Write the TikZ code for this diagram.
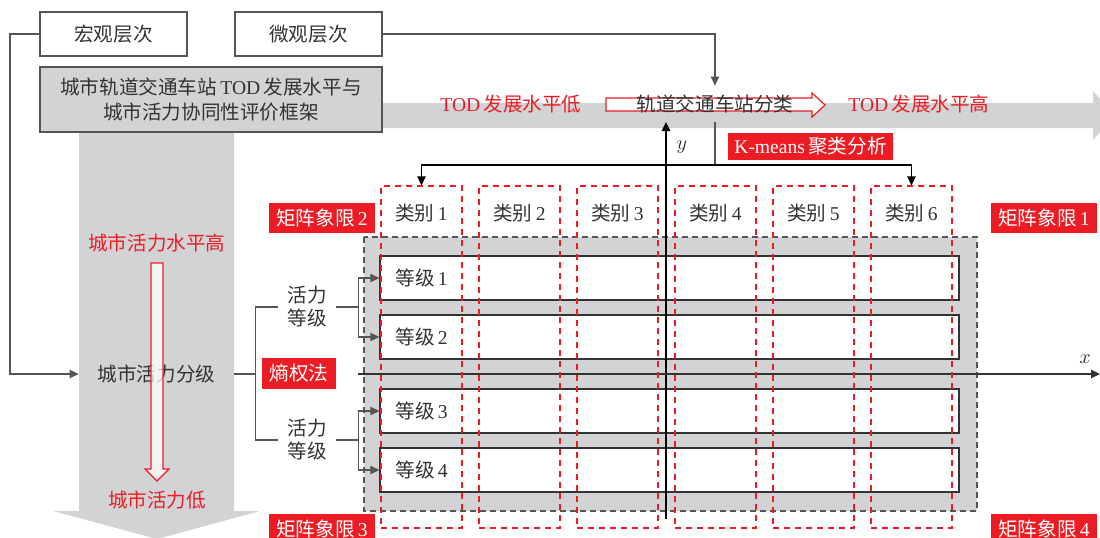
\documentclass[tikz,border=0pt]{standalone}
\usepackage{fontspec}
\setmainfont{Liberation Serif}
\newfontfamily\zh{Noto Sans CJK SC}
\usetikzlibrary{arrows.meta}
\definecolor{myred}{HTML}{ED1C24}
\definecolor{bandgray}{HTML}{D1D3D4}
\definecolor{linegray}{HTML}{555555}
\definecolor{txtgray}{HTML}{333333}
\begin{document}
\begin{tikzpicture}[x=0.5pt,y=-0.5pt,
  every node/.style={inner sep=0pt, font=\fontsize{9.8}{11.5}\selectfont, text=txtgray},
  tri/.style={-{Triangle[length=4.5pt,width=4.2pt]}},
  conn/.style={draw=linegray, line width=0.6pt},
  wbox/.style={draw=linegray, line width=0.6pt, fill=white, minimum width=73.5pt, minimum height=22pt},
  gradebox/.style={draw=black!80, line width=0.6pt, fill=white, minimum width=289.5pt, minimum height=22pt},
  catbox/.style={draw=myred, line width=0.6pt, dash pattern=on 3pt off 2.5pt, minimum width=40.5pt, minimum height=171pt},
  redbox/.style={fill=myred, text=white, minimum width=53pt, minimum height=15pt},
  redtxt/.style={text=myred},
  hollow/.style={draw=myred, line width=0.6pt, fill=white},
]
\useasboundingbox (0,0) rectangle (1100,537);
% gray bands
\fill[bandgray] (370,103) -- (1093,103) -- (1093,91) -- (1115,115.5) -- (1093,140) -- (1093,128) -- (370,128) -- cycle;
\fill[bandgray] (79,128) -- (234,128) -- (234,511) -- (260,511) -- (157,539) -- (53,511) -- (79,511) -- cycle;
% top boxes
\node[wbox] (macro) at (113.5,34) {\zh 宏观层次};
\node[wbox] (micro) at (308.5,34) {\zh 微观层次};
\node[draw=linegray, line width=0.6pt, fill=bandgray, minimum width=171pt, minimum height=32.5pt, align=center] (frame) at (211,99.5)
  {{\zh 城市轨道交通车站}\,TOD\,{\zh 发展水平与}\\[1pt]{\zh 城市活力协同性评价框架}};
% gray matrix area
\fill[bandgray] (364,237) rectangle (977,511);
\draw[linegray, line width=0.6pt, dash pattern=on 3pt off 2pt] (364,237) rectangle (977,511);
% grade boxes
\node[gradebox] (g1) at (669.5,278) {};
\node[gradebox] (g2) at (669.5,337) {};
\node[gradebox] (g3) at (669.5,411) {};
\node[gradebox] (g4) at (669.5,470) {};
\node[anchor=west] (g1t) at (395,278) {{\zh 等级}\,1};
\node[anchor=west] (g2t) at (395,337) {{\zh 等级}\,2};
\node[anchor=west] (g3t) at (395,411) {{\zh 等级}\,3};
\node[anchor=west] (g4t) at (395,470) {{\zh 等级}\,4};
% axes
\coordinate (yo) at (666,519);
\coordinate (yt) at (666,122);
\coordinate (xo) at (358,374);
\coordinate (xt) at (1100,374);
\draw[black, line width=0.6pt, tri] (yo) -- (yt);
\draw[black!80, line width=0.6pt, tri] (xo) -- (xt);
\node (ylab) at (682,147) {\fontsize{10}{12}\selectfont$y$};
\node (xlab) at (1085,359) {\fontsize{10}{12}\selectfont$x$};
% category boxes
\foreach \i in {1,...,6}{
  \node[catbox] (cat\i) at ({381+98*(\i-1)+40.5},357) {};
  \node (cat\i t) at ({381+98*(\i-1)+40.5},213) {{\zh 类别}\,\i};
}
% horizontal hollow arrow and classification
\draw[hollow] (606,98) -- (812,98) -- (812,93) -- (825,105) -- (812,117) -- (812,111) -- (606,111) -- cycle;
\node[minimum height=18pt] (cls) at (715,104) {\zh 轨道交通车站分类};
\node[redtxt] (todlow) at (511,104) {TOD\,{\zh 发展水平低}};
\node[redtxt] (todhigh) at (919,104) {TOD\,{\zh 发展水平高}};
\node[redbox, minimum width=82.5pt, minimum height=13.5pt] (km) at (810.5,146.5) {K-means\,{\zh 聚类分析}};
% connectors top
\draw[conn, tri] (micro.east) -| (cls.north);
\draw[conn] (cls.south) -- (715,165) coordinate (split);
\draw[conn, tri, draw=black] (split) -| (cat1.north);
\draw[conn, tri, draw=black] (split) -| (cat6.north);
% left side
\node[minimum width=77.5pt, minimum height=16pt] (lvl) at (156.5,374) {\zh 城市活力分级};
\draw[conn, tri] (macro.west) -- (10,34) |- (lvl.west);
\node[redtxt] (hi) at (157,243) {\zh 城市活力水平高};
\node[redtxt] (lo) at (157,500) {\zh 城市活力低};
\draw[draw=myred, line width=0.6pt, fill=white, fill opacity=0.75] (151,263) -- (163,263) -- (163,469) -- (169,469) -- (157,481) -- (145,469) -- (151,469) -- cycle;
\node[align=center, minimum width=29pt] (v1) at (307,307) {\zh 活力\\\zh 等级};
\node[align=center, minimum width=29pt] (v2) at (307,440) {\zh 活力\\\zh 等级};
\node[redbox, minimum width=37pt, minimum height=15.5pt] (shang) at (299,373.5) {\zh 熵权法};
\draw[conn] (v1.west) -- ++(-22,0) |- (lvl.east);
\draw[conn] (v2.west) -- ++(-22,0) |- (lvl.east);
\draw[conn, tri] (v1.east) -- ++(22,0) |- (g1.west);
\draw[conn, tri] (v1.east) -- ++(22,0) |- (g2.west);
\draw[conn, tri] (v2.east) -- ++(22,0) |- (g3.west);
\draw[conn, tri] (v2.east) -- ++(22,0) |- (g4.west);
% quadrant labels
\node[redbox] (q2) at (322,218) {{\zh 矩阵象限}\,2};
\node[redbox] (q1) at (1044,218) {{\zh 矩阵象限}\,1};
\node[redbox] (q3) at (322,529) {{\zh 矩阵象限}\,3};
\node[redbox] (q4) at (1044,529) {{\zh 矩阵象限}\,4};
\end{tikzpicture}
\end{document}
